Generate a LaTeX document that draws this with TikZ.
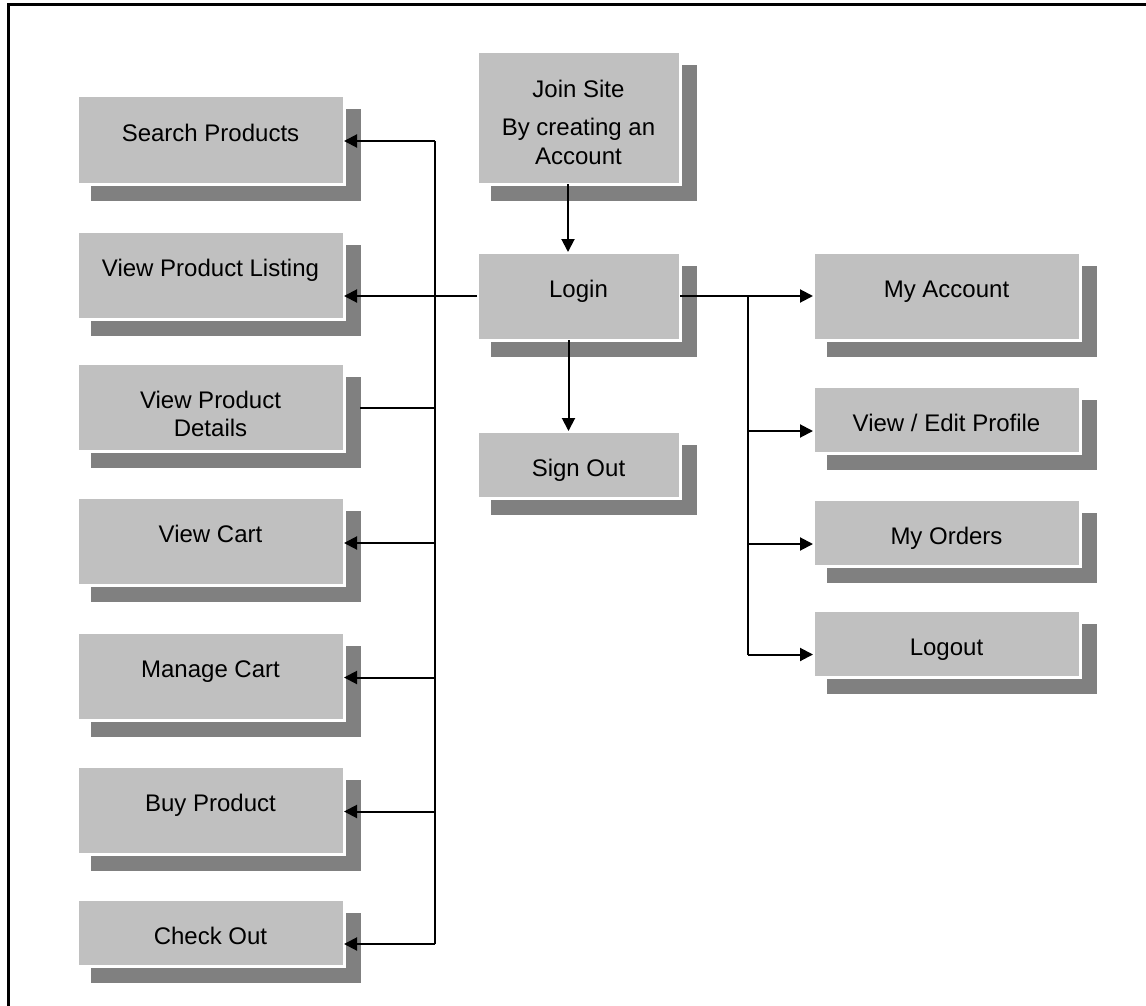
\documentclass[tikz,border=0pt]{standalone}
\usepackage{fontspec}
\setmainfont{Liberation Sans}
\usetikzlibrary{arrows.meta,shadows}
\definecolor{boxgray}{HTML}{C0C0C0}
\definecolor{shadowgray}{HTML}{808080}

\begin{document}
\begin{tikzpicture}[x=0.5pt,y=-0.5pt,>={Triangle[length=6.5pt,width=6.5pt]},line width=1pt,
	page/.style={rectangle,anchor=north west,outer sep=0pt,fill=boxgray,draw=white,line width=1.5pt,
		drop shadow={shadow xshift=7.5pt,shadow yshift=-7.5pt,fill=shadowgray,draw=shadowgray,line width=1.5pt,opacity=1},
		inner ysep=0pt,minimum width=133.5pt,align=center,font=\fontsize{12pt}{14pt}\selectfont,text height=22.5pt},
	tall/.style={page,text depth=21.5pt},
	short/.style={page,text depth=11pt},
	mid/.style={minimum width=101.5pt}]
	\useasboundingbox (0,0) rectangle (1146,1006);
	\draw[line width=1.5pt] (1146,5) -- (8,5) -- (8,1006);

	% left column
	\node[tall]  (srch) at (77,96)  {Search Products};
	\node[tall]  (list) at (77,231) {View Product Listing};
	\node[page,text height=36.5pt,text depth=7.5pt] (det) at (77,363) {View Product\\Details};
	\node[tall]  (cart) at (77,497) {View Cart};
	\node[tall]  (mng)  at (77,632) {Manage Cart};
	\node[tall]  (buy)  at (77,766) {Buy Product};
	\node[short] (chk)  at (77,899) {Check Out};

	% middle column
	\node[page,mid,text height=56pt,text depth=10pt] (join) at (477,52) {Join Site\\[5.5pt]By creating an\\Account};
	\node[tall,mid]  (login) at (477,252) {Login};
	\node[short,mid] (sout)  at (477,431) {Sign Out};

	% right column
	\node[tall]  (acct) at (813,252) {My Account};
	\node[short] (prof) at (813,386) {View / Edit Profile};
	\node[short] (ord)  at (813,499) {My Orders};
	\node[short] (lgo)  at (813,610) {Logout};

	\coordinate (lbus) at (435,0);
	\coordinate (rbus) at (748,0);

	\draw[->] ([xshift=-5.25pt]join.south) -- ([xshift=-5.25pt]login.north);
	\draw[->] ([xshift=-5pt]login.south) -- ([xshift=-5pt]sout.north);
	\draw[->] (login.west) -- (login.west -| list.east);
	\draw[->] (login.east) -- (acct.west);

	\draw ([yshift=-0.5pt]srch.east -| lbus) -- ([yshift=-5.75pt]chk.east -| lbus);
	\draw ([xshift=8pt,yshift=-0.5pt]det.east) -- ([yshift=-0.5pt]det.east -| lbus);
	\foreach \n/\dy in {srch/-0.5pt,cart/-1pt,mng/-0.75pt,buy/-0.75pt,chk/-5.75pt}
		\draw[->] ([yshift=\dy]\n.east -| lbus) -- ([yshift=\dy]\n.east);

	\draw (login.east -| rbus) -- ([yshift=-5.5pt]lgo.west -| rbus);
	\foreach \n/\dy in {prof/-5.75pt,ord/-5.75pt,lgo/-5.5pt}
		\draw[->] ([yshift=\dy]\n.west -| rbus) -- ([yshift=\dy]\n.west);
\end{tikzpicture}
\end{document}
